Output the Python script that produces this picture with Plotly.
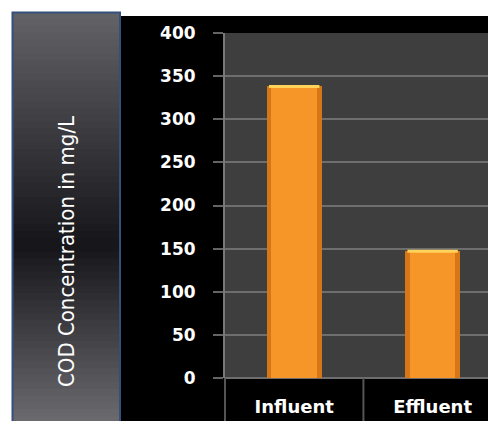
import plotly.graph_objects as go

categories = ["Influent", "Effluent"]
cod_values = [338, 147]
y_ticks = [0, 50, 100, 150, 200, 250, 300, 350, 400]
y_title = "COD Concentration in mg/L"

W, H = 488, 421
L, R, T, B = 225, 0, 33, 43
PW = W - L - R
PH = H - T - B


def px(x):
    return (x - L) / PW


def py(y):
    return (H - B - y) / PH


shapes = []
# black chart background
shapes.append(dict(type="rect", xref="paper", yref="paper", x0=px(120), x1=px(W + 5),
                   y0=py(16), y1=py(H + 5), fillcolor="black", line=dict(width=0), layer="below"))
# plot area background
shapes.append(dict(type="rect", xref="paper", yref="paper", x0=0, x1=1, y0=0, y1=1,
                   fillcolor="rgb(62,62,62)", line=dict(width=0), layer="below"))
# grey gradient title panel
top, bot, mid = 12, H + 2, 245
n = 60
for i in range(n):
    y0 = top + (bot - top) * i / n
    y1 = top + (bot - top) * (i + 1) / n
    yc = (y0 + y1) / 2
    if yc < mid:
        v = 100 - (100 - 22) * (yc - top) / (mid - top)
    else:
        v = 22 + (108 - 22) * (yc - mid) / (bot - mid)
    v = int(v)
    shapes.append(dict(type="rect", xref="paper", yref="paper", x0=px(12), x1=px(120),
                       y0=py(y1 + 2), y1=py(y0), fillcolor=f"rgb({v},{v},{v+4})",
                       line=dict(width=0), layer="below"))
shapes.append(dict(type="rect", xref="paper", yref="paper", x0=px(12.5), x1=px(120),
                   y0=py(H + 5), y1=py(12.5), fillcolor="rgba(0,0,0,0)",
                   line=dict(color="rgb(50,80,125)", width=2), layer="below"))
# category separators
for xv, xr in [(0, "paper"), (0.5, "x")]:
    shapes.append(dict(type="line", xref=xr, yref="paper", x0=xv, x1=xv, y0=0, y1=py(H + 5),
                       line=dict(color="rgb(85,85,85)", width=2), layer="above"))

fig = go.Figure()
fig.add_trace(go.Bar(x=categories, y=cod_values, width=0.4,
                     marker=dict(color="rgb(215,118,22)", line=dict(width=0))))
fig.add_trace(go.Bar(x=categories, y=cod_values, width=0.33,
                     marker=dict(color="rgb(246,150,40)", line=dict(width=0))))
fig.add_trace(go.Scatter(x=categories, y=cod_values, mode="markers",
                         marker=dict(symbol="line-ew", size=36,
                                     line=dict(color="rgb(255,210,90)", width=3)),
                         hoverinfo="skip"))

fig.update_layout(
    width=W, height=H,
    margin=dict(l=L, r=R, t=T, b=B, pad=0),
    paper_bgcolor="white",
    plot_bgcolor="rgb(62,62,62)",
    barmode="overlay",
    showlegend=False,
    bargap=0,
    shapes=shapes,
    font=dict(family="DejaVu Sans", color="white"),
    xaxis=dict(range=[-0.5, 1.4], showgrid=False, zeroline=False, showline=False,
               ticks="", tickfont=dict(family="DejaVu Sans", size=18, color="white",
                                       weight="bold"),
               ticklabelstandoff=16),
    yaxis=dict(range=[0, 400], tickvals=y_ticks, showgrid=True,
               gridcolor="rgb(110,110,110)", gridwidth=2,
               zeroline=True, zerolinecolor="rgb(110,110,110)", zerolinewidth=2,
               showline=True, linecolor="rgb(120,120,120)", linewidth=2,
               ticks="outside", ticklen=10, tickwidth=2, tickcolor="rgb(100,100,100)",
               tickfont=dict(family="DejaVu Sans", size=17, color="white", weight="bold"),
               ticklabelstandoff=14),
    annotations=[dict(text=y_title, textangle=-90, xref="paper", yref="paper",
                      x=px(66), y=py(252), xanchor="center", yanchor="middle",
                      showarrow=False,
                      font=dict(family="Liberation Sans Narrow, DejaVu Sans Condensed, Roboto Condensed, Liberation Sans",
                                size=22, color="white"))],
)

fig.write_html("out.html")
